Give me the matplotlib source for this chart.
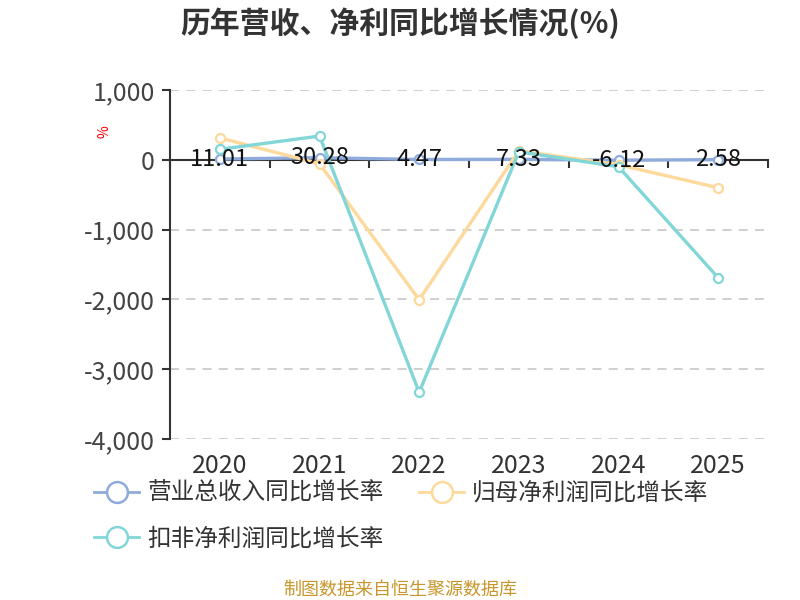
import numpy as np
import matplotlib.pyplot as plt
from matplotlib.lines import Line2D
from matplotlib.ticker import FuncFormatter

plt.rcParams['font.family'] = ['Noto Sans CJK SC', 'DejaVu Sans']

years = ["2020", "2021", "2022", "2023", "2024", "2025"]
revenue_growth = [11.01, 30.28, 4.47, 7.33, -6.12, 2.58]
net_profit_growth = [314, -57, -2005, 130, -70, -400]
deducted_profit_growth = [150, 340, -3330, 115, -100, -1690]
series_names = ["营业总收入同比增长率", "归母净利润同比增长率", "扣非净利润同比增长率"]
colors = ["#8fabdc", "#fdd99b", "#83d6d8"]
y_ticks = [-4000, -3000, -2000, -1000, 0, 1000]

fig = plt.figure(figsize=(8, 6), dpi=100)
ax = fig.add_axes([0.2125, 0.2683, 0.7475, 0.5817])
x = np.arange(len(years))

for vals, c in zip([revenue_growth, net_profit_growth, deducted_profit_growth], colors):
    ax.plot(x, vals, color=c, lw=2.4, marker="o", ms=6.5, mfc="white",
            mec=c, mew=1.6, zorder=3)

for xi, v in zip(x, revenue_growth):
    ax.text(xi, v, f"{v:.2f}", ha="center", va="center", fontsize=17,
            color="#111111", zorder=4)

ax.set_xlim(-0.5, len(years) - 0.5)
ax.set_ylim(-4000, 1000)
ax.set_yticks(y_ticks)
ax.yaxis.set_major_formatter(FuncFormatter(lambda v, p: f"{int(v):,}"))
ax.tick_params(axis="y", labelsize=18, labelcolor="#444444", length=6,
               width=1.5, color="#333333", pad=5)
for yt in y_ticks:
    if yt != 0:
        ax.axhline(yt, color="#cccccc", lw=1.3, ls=(0, (5, 4)), zorder=1)

for s in ["top", "right"]:
    ax.spines[s].set_visible(False)
ax.spines["left"].set_color("#333333")
ax.spines["left"].set_linewidth(1.5)
ax.spines["bottom"].set_position(("data", 0))
ax.spines["bottom"].set_color("#333333")
ax.spines["bottom"].set_linewidth(1.5)
ax.set_xticks(np.arange(len(years) + 1) - 0.5)
ax.set_xticklabels([])
ax.tick_params(axis="x", length=6, width=1.5, color="#333333", direction="out")

sec = ax.secondary_xaxis("bottom")
sec.set_xticks(x)
sec.set_xticklabels(years)
sec.spines["bottom"].set_visible(False)
sec.tick_params(length=0, labelsize=18, labelcolor="#333333", pad=10)

fig.text(0.131, 0.78, "%", color="red", fontsize=10, rotation=90,
         ha="center", va="center")

fig.text(0.5, 0.962, "历年营收、净利同比增长情况(%)", ha="center", va="center",
         fontsize=21.5, fontweight="bold", color="#333333")

handles = [Line2D([0], [0], color=c, lw=2, marker="o", ms=15, mfc="white",
                  mec=c, mew=1.8) for c in colors]
order = [0, 2, 1]
fig.legend([handles[i] for i in order], [series_names[i] for i in order],
           loc="upper left", bbox_to_anchor=(0.118, 0.197),
           ncol=2, frameon=False, fontsize=17, handlelength=1.9,
           handletextpad=0.35, columnspacing=1.5, labelspacing=0.95,
           borderaxespad=0, borderpad=0, labelcolor="#333333")

fig.text(0.5, 0.003, "制图数据来自恒生聚源数据库", ha="center", va="bottom",
         fontsize=13, color="#c8962a")

fig.savefig("out.png", dpi=100)
